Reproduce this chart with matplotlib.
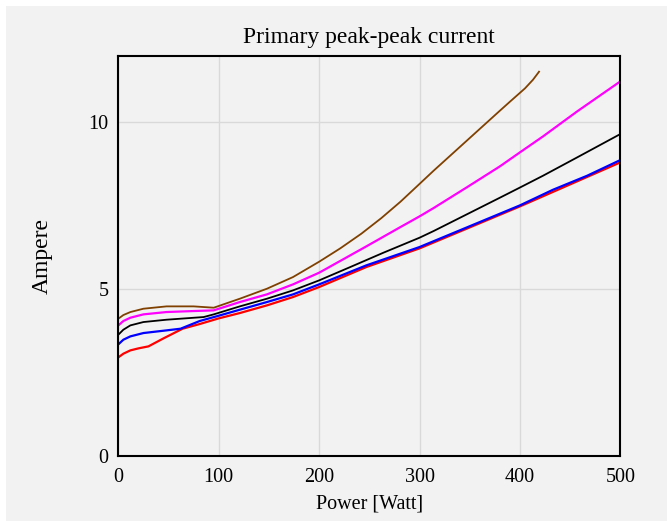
import matplotlib
matplotlib.use("Agg")
import matplotlib.pyplot as plt
from matplotlib.patches import Rectangle

plt.rcParams["font.family"] = "Liberation Serif"

# curves (power in W, current in A)
x_brown = [0, 5, 12, 25, 48, 75, 95, 121, 148, 174, 200, 221, 242, 262, 281, 297, 314, 347, 380, 390,
           405, 413, 419]
y_brown = [4.11, 4.22, 4.31, 4.41, 4.48, 4.48, 4.44, 4.71, 5.01, 5.36, 5.82, 6.22, 6.66, 7.13, 7.62,
           8.07, 8.55, 9.45, 10.35, 10.62, 11.02, 11.28, 11.52]

x_magenta = [0, 5, 12, 25, 48, 75, 95, 121, 148, 174, 200, 247, 281, 300, 314, 347, 380, 399, 423, 457, 500]
y_magenta = [3.91, 4.04, 4.14, 4.24, 4.31, 4.34, 4.36, 4.61, 4.84, 5.14, 5.49, 6.28, 6.86, 7.18, 7.43,
             8.05, 8.68, 9.08, 9.58, 10.33, 11.23]

x_black = [0, 5, 12, 25, 48, 85, 95, 121, 148, 174, 200, 231, 264, 300, 314, 347, 380, 399, 423, 457, 500]
y_black = [3.63, 3.78, 3.91, 4.01, 4.08, 4.16, 4.24, 4.48, 4.71, 4.96, 5.26, 5.66, 6.09, 6.54, 6.74,
           7.24, 7.74, 8.03, 8.40, 8.95, 9.65]

x_blue = [0, 5, 12, 25, 48, 62, 81, 100, 121, 148, 174, 200, 247, 300, 340, 400, 433, 467, 500]
y_blue = [3.34, 3.48, 3.58, 3.68, 3.76, 3.81, 4.04, 4.20, 4.38, 4.61, 4.84, 5.14, 5.71, 6.26, 6.76,
          7.51, 7.98, 8.40, 8.87]

x_red = [0, 5, 12, 20, 30, 45, 64, 81, 100, 121, 148, 174, 200, 247, 300, 400, 500]
y_red = [2.95, 3.06, 3.16, 3.22, 3.28, 3.52, 3.81, 3.95, 4.12, 4.28, 4.51, 4.76, 5.06, 5.66, 6.22,
         7.48, 8.80]

bg = "#f2f2f2"
fig = plt.figure(figsize=(6.67, 5.21), dpi=100, facecolor="white")
fig.patches.append(Rectangle((6 / 667, 0), 1, (521 - 6) / 521, transform=fig.transFigure,
                             facecolor=bg, edgecolor="none", zorder=-10))
ax = fig.add_axes([0.1774, 0.1253, 0.7527, 0.7678])
ax.set_facecolor(bg)

ax.plot(x_red, y_red, color="#ff0000", lw=1.6)
ax.plot(x_blue, y_blue, color="#0000ff", lw=1.6)
ax.plot(x_black, y_black, color="black", lw=1.3)
ax.plot(x_magenta, y_magenta, color="#ff00ff", lw=1.6)
ax.plot(x_brown, y_brown, color="#804000", lw=1.3)

ax.set_xlim(0, 500)
ax.set_ylim(0, 12)
ax.set_xticks([0, 100, 200, 300, 400, 500])
ax.set_yticks([0, 5, 10])
ax.grid(True, color="#d9d9d9", lw=1.0)
ax.set_axisbelow(True)
ax.tick_params(length=0, labelsize=14.5)
ax.tick_params(axis="x", pad=9)
ax.tick_params(axis="y", pad=7)
for s in ax.spines.values():
    s.set_linewidth(1.5)
    s.set_color("black")

ax.set_title("Primary peak-peak current", fontsize=17, pad=9)
ax.set_xlabel("Power [Watt]", fontsize=14.5, labelpad=5)
ax.set_ylabel("Ampere", fontsize=17, labelpad=26)

fig.savefig("out.png", dpi=100, facecolor=fig.get_facecolor())
